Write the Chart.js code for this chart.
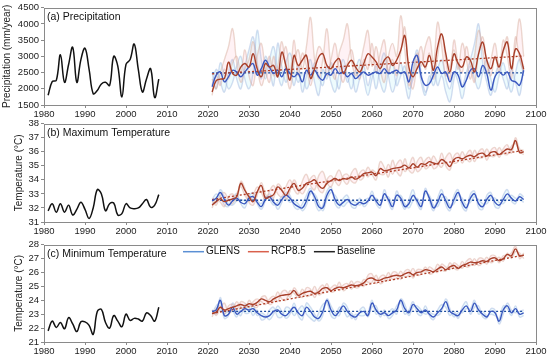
<!DOCTYPE html>
<html><head><meta charset="utf-8">
<script src="https://cdn.jsdelivr.net/npm/chart.js@4.4.1/dist/chart.umd.min.js"></script>
<style>
body{margin:0;background:#fff;width:550px;height:360px;position:relative;overflow:hidden}
.p{position:absolute;left:0;width:550px}
</style></head><body>
<div class="p" style="top:0;height:120px"><canvas id="ca"></canvas></div>
<div class="p" style="top:116px;height:122px"><canvas id="cb"></canvas></div>
<div class="p" style="top:237px;height:123px"><canvas id="cc"></canvas></div>
<script>
const baseYears = [1981,1982,1983,1984,1985,1986,1987,1988,1989,1990,1991,1992,1993,1994,1995,1996,1997,1998,1999,2000,2001,2002,2003,2004,2005,2006,2007,2008];
const futYears = [2021,2022,2023,2024,2025,2026,2027,2028,2029,2030,
  2031,2032,2033,2034,2035,2036,2037,2038,2039,2040,
  2041,2042,2043,2044,2045,2046,2047,2048,2049,2050,
  2051,2052,2053,2054,2055,2056,2057,2058,2059,2060,
  2061,2062,2063,2064,2065,2066,2067,2068,2069,2070,
  2071,2072,2073,2074,2075,2076,2077,2078,2079,2080,
  2081,2082,2083,2084,2085,2086,2087,2088,2089,2090,
  2091,2092,2093,2094,2095,2096,2097];
const trendYears = [2021, 2097];

// (a) precipitation, mm/year
const baseA = [1800,2220,2260,3050,2200,2750,3280,2200,2900,3250,
  2600,1850,1950,2150,2200,2100,3000,2700,1750,2750,
  2900,3380,2600,1900,2300,2620,1730,2300];
const glensA = [2060,2420,2520,2215,2370,2570,2520,2370,2520,2670,
  2775,2420,2620,2880,2670,2470,2570,2370,2620,2470,
  2370,2470,2215,2570,2420,2570,2370,2265,2470,2420,
  2620,2470,2520,2370,2470,2315,2420,2520,2420,2470,
  2520,2470,2620,2470,2520,2570,2470,2520,2215,2830,
  3030,2370,2110,2160,2420,2670,2470,2520,2215,2520,
  2420,2060,2265,2570,2620,2370,2720,2470,1960,2370,
  2520,2420,2520,2265,2215,2110,2570];
const rcpA = [1900,2250,2300,2320,2820,2470,2420,2670,2780,2670,
  3080,2620,2370,2780,2670,2720,2370,3130,2720,2270,
  3030,2720,2880,3030,2320,2620,2980,3080,2720,2620,
  2830,2930,2470,2720,2880,2670,2520,2780,3080,2980,
  2830,2620,2880,2980,2720,2880,3180,3640,2670,2370,
  2620,2830,2670,3030,2570,3290,3690,3080,2520,3080,
  2780,2670,2980,2880,2520,3080,3440,2880,2620,2980,
  2670,3180,3440,2620,3230,3080,2600];
const rcpA1 = [2300,2000,2500,2900,3300,3850,2800,2200,2600,2900,
  3450,2700,2100,2500,3000,2400,2700,3450,2600,2000,
  2800,3200,2600,3300,4200,2900,2300,2900,3850,2700,
  2300,3100,3500,4000,2900,2400,2700,3300,3800,2700,
  3300,2600,2200,3000,3400,3000,4250,3200,2100,2500,
  3100,2700,3300,3600,2800,4050,3300,2400,2700,3200,
  2600,3400,2900,2300,3000,3800,3200,2500,2900,3400,
  2700,3100,3600,2600,3300,4150,3000];
const rcpA2 = [1800,2400,2100,2600,2300,2800,3000,2500,3200,2400,
  2100,3000,3400,2600,2200,3000,2400,2800,3300,2500,
  3500,2400,3100,2700,2100,2700,3300,3100,2400,2900,
  3400,2600,2200,2800,3200,2600,2300,2900,2600,3400,
  2500,3100,3500,2500,2900,2400,3100,3900,2400,2000,
  2800,3300,2600,3100,2300,3000,3700,2900,2300,3500,
  2800,2500,3300,2700,2200,3100,3600,2800,2400,3000,
  2500,3500,3000,2300,3600,2900,2500];
const glensA1 = [2100,2600,2200,1900,2500,2900,2300,2000,2700,3200,
  3600,2800,2300,3000,2600,2100,3400,2700,2200,2500,
  2100,2700,1900,2400,2900,2200,1800,2600,2300,2800,
  2400,2000,2700,2200,2500,1900,2300,2700,2100,2500,
  2000,2700,3100,2400,1900,2300,2800,2200,1700,2600,
  3200,2500,1900,2200,2700,2100,2400,1900,1600,2300,
  2800,2100,2500,2900,3400,4000,2800,2200,1800,2400,
  2700,2300,2000,2600,2200,1800,2700];
const glensA2 = [2500,2000,2800,2400,2000,2200,2700,3000,2300,2000,
  2500,3800,2900,2300,2900,3300,2500,2100,2800,3100,
  2600,2200,2500,2000,2300,2800,2400,2100,2700,2200,
  1900,2500,2900,2400,2000,2600,2900,2300,1800,2300,
  2700,2200,1900,2500,2800,2100,2400,2700,2000,2300,
  2900,2200,1800,2400,2100,2600,2900,2300,2000,2500,
  2200,1700,2300,2700,2300,2000,2500,2900,2300,1900,
  2400,2800,2300,1900,2500,2900,2400];
const rcpTrendA = [2460, 3010];
const glensTrendA = [2490, 2490];

// (b) maximum temperature, °C
const baseB = [31.8,32.3,31.7,32.3,31.7,32.2,31.5,31.9,32.4,31.9,
  31.25,32.0,33.3,33.0,31.8,32.3,32.35,31.5,31.6,32.3,
  32.0,31.95,32.0,32.3,32.6,32.05,32.2,32.95];
const glensB = [32.5,32.7,33.1,32.6,32.2,32.5,32.7,32.4,32.3,32.7,
  32.8,32.4,32.1,32.6,32.8,32.4,32.2,32.6,32.9,32.7,
  32.3,32.1,32.0,32.5,33.2,32.8,32.1,32.0,32.9,33.3,
  32.6,32.2,32.4,32.6,32.3,32.2,32.4,32.3,32.5,32.9,
  32.5,32.2,33.0,32.6,32.1,32.9,32.7,32.1,32.3,32.9,
  32.5,32.1,33.2,32.7,32.0,32.4,33.0,32.5,32.0,32.6,
  33.1,32.4,32.0,32.7,33.0,32.3,32.1,32.6,32.9,32.4,
  32.2,32.6,33.0,32.7,32.5,32.8,32.6];
const rcpB = [32.2,32.45,32.65,32.45,32.55,32.65,32.8,33.75,33.25,32.8,
  32.45,33.15,33.6,32.7,32.8,32.95,33.5,33.25,32.9,33.4,
  33.75,33.25,33.4,33.75,33.85,34.0,33.6,33.4,33.75,33.95,
  34.1,33.95,34.1,34.05,34.2,34.05,34.2,34.45,34.5,34.55,
  34.3,34.8,34.65,34.7,34.8,34.85,34.9,35.05,34.85,35.15,
  34.9,35.15,35.1,35.3,35.2,35.15,35.45,35.25,34.95,35.45,
  35.6,35.5,35.65,35.75,35.65,35.85,35.9,35.7,35.95,36.0,
  35.8,36.0,36.2,36.15,36.8,35.95,36.0];
const rcpB1 = [32.5,32.2,32.9,33.1,32.6,32.3,33.0,33.5,32.9,32.5,
  32.9,33.5,33.1,32.6,33.2,33.6,33.0,32.8,33.5,34.0,
  33.3,33.0,33.9,34.4,33.6,33.3,34.3,34.6,33.8,33.5,
  34.2,34.7,34.0,33.7,34.5,34.8,34.0,34.2,34.9,34.4,
  34.0,35.3,34.9,34.2,35.4,34.6,34.3,35.5,34.7,34.5,
  35.3,35.6,34.8,35.0,35.7,35.2,34.9,35.6,35.9,35.2,
  35.3,36.0,35.5,35.3,36.1,35.6,35.6,36.2,35.7,35.7,
  36.3,35.9,35.8,36.4,36.6,36.0,35.8];
const rcpB2 = [32.0,32.7,32.4,32.1,32.8,33.0,32.5,33.9,33.4,32.4,
  32.2,32.9,33.8,33.0,32.6,32.7,33.7,33.4,32.6,33.2,
  34.0,33.4,33.0,33.5,34.1,34.3,33.3,33.1,34.0,34.3,
  33.9,33.6,34.3,34.4,33.9,33.8,34.5,34.7,34.2,34.7,
  34.5,34.4,34.4,35.1,34.4,35.1,35.4,34.6,35.0,35.6,
  34.6,34.8,35.4,35.6,34.8,35.0,35.9,35.0,34.7,35.7,
  35.9,35.2,35.8,36.1,35.3,36.0,36.2,35.4,36.1,36.3,
  35.6,36.2,36.5,35.9,37.0,36.2,36.1];
const glensB1 = [32.6,33.0,32.8,32.2,32.1,32.7,33.0,32.3,32.0,32.8,
  33.1,32.3,31.9,32.5,33.0,32.6,31.9,32.4,33.1,32.9,
  32.1,31.9,32.3,32.9,33.4,32.5,31.8,32.2,33.2,33.5,
  32.3,32.0,32.7,32.9,32.1,32.0,32.7,32.1,32.4,33.2,
  32.3,32.0,33.3,32.4,31.9,33.2,32.5,31.9,32.6,33.3,
  32.3,31.9,33.4,32.5,31.8,32.7,33.3,32.2,31.8,32.9,
  33.3,32.1,31.8,33.0,33.2,32.0,31.9,32.9,33.1,32.1,
  32.0,32.9,33.3,32.5,32.3,33.0,32.8];
const glensB2 = [32.3,32.4,33.3,32.8,32.3,32.2,32.5,32.6,32.5,32.5,
  32.6,32.5,32.3,32.8,32.6,32.2,32.4,32.8,32.7,32.4,
  32.5,32.3,31.8,32.2,33.0,33.0,32.4,31.8,32.6,33.1,
  32.9,32.4,32.1,32.4,32.5,32.4,32.2,32.5,32.7,32.6,
  32.7,32.4,32.7,32.8,32.3,32.6,32.9,32.3,32.0,32.5,
  32.7,32.3,33.0,32.9,32.2,32.1,32.7,32.8,32.2,32.3,
  32.9,32.7,32.2,32.4,32.8,32.6,32.3,32.3,32.7,32.7,
  32.4,32.3,32.7,32.9,32.7,32.6,32.4];
const rcpTrendB = [32.6, 36.1];
const glensTrendB = [32.55, 32.55];

// (c) minimum temperature, °C
const baseC = [21.8,22.5,22.05,22.4,21.95,22.75,22.3,21.75,22.45,22.45,
  22.2,21.55,23.2,23.35,22.4,22.0,22.9,22.5,22.1,23.0,
  22.55,22.7,22.65,22.5,23.1,22.9,22.5,23.5];
const glensC = [23.2,23.3,24.0,22.9,23.0,23.5,23.0,23.2,23.4,23.3,
  23.4,23.1,22.9,22.8,22.9,23.2,23.3,23.0,22.9,23.2,
  23.5,23.1,22.9,23.5,23.2,22.8,22.7,23.2,24.0,23.3,
  22.9,23.2,23.6,23.2,22.9,22.8,23.1,23.2,22.9,23.8,
  23.3,23.0,23.1,22.9,23.1,23.3,24.0,23.4,23.1,23.7,
  23.4,23.1,23.3,23.0,22.8,23.1,23.4,23.9,23.2,23.0,
  22.9,23.3,23.6,23.2,23.8,23.3,23.0,22.8,23.2,23.1,
  22.5,23.3,23.6,23.1,23.4,23.0,23.1];
const rcpC = [23.05,23.15,23.5,23.3,23.4,23.5,23.6,23.7,23.6,23.75,
  23.7,23.85,24.1,24.0,23.9,24.1,24.25,24.35,24.4,24.45,
  24.7,24.35,24.5,24.6,24.65,24.5,24.6,24.85,24.9,24.7,
  24.85,24.95,24.9,25.0,25.1,25.05,25.1,25.25,25.55,25.6,
  25.45,25.45,25.6,25.65,25.75,25.8,25.75,25.9,26.0,25.85,
  26.0,26.05,26.2,26.15,26.05,26.25,26.4,26.2,26.4,26.5,
  26.3,26.5,26.6,26.75,26.7,26.75,26.85,26.8,27.0,27.05,
  26.85,27.0,27.3,27.2,27.7,27.2,27.25];
const rcpC1 = [23.3,22.9,23.4,23.8,23.1,23.3,23.9,23.5,23.3,24.0,
  23.6,23.5,24.2,24.3,23.7,23.9,24.6,24.1,24.0,24.7,
  24.5,24.2,24.8,24.3,24.4,25.0,24.4,24.6,25.2,24.6,
  24.7,25.3,24.7,24.9,25.4,24.9,25.0,25.5,25.3,25.3,
  25.8,25.2,25.4,26.0,25.5,25.6,26.1,25.7,25.8,26.3,
  25.8,25.9,26.4,25.9,26.0,26.6,26.2,26.1,26.7,26.3,
  26.2,26.8,26.4,26.5,27.0,26.5,26.7,27.1,26.7,26.9,
  27.1,26.8,27.4,27.0,27.5,27.4,27.0];
const rcpC2 = [22.8,23.4,23.6,23.0,23.6,23.7,23.3,23.9,23.8,23.5,
  23.9,24.1,23.9,23.7,24.1,24.3,23.9,24.6,24.7,24.2,
  24.9,24.5,24.2,24.9,24.8,24.2,24.8,25.1,24.6,24.9,
  25.1,24.7,25.1,25.2,24.8,25.3,25.3,25.0,25.8,25.9,
  25.2,25.7,25.8,25.4,26.0,26.0,25.5,26.1,26.2,25.6,
  26.2,26.2,26.0,26.4,26.2,26.0,26.6,26.4,26.2,26.7,
  26.5,26.3,26.8,27.0,26.5,27.0,27.0,26.6,27.2,27.2,
  26.7,27.2,27.2,27.4,27.9,27.0,27.4];
const glensC1 = [23.0,23.6,23.8,22.7,22.9,23.8,23.3,22.9,23.7,23.5,
  22.9,23.3,22.6,22.7,23.3,23.5,22.8,22.8,23.5,23.4,
  22.9,23.3,23.6,23.0,22.7,22.5,23.1,23.7,23.8,22.9,
  22.7,23.5,23.3,22.8,23.1,22.6,23.3,23.5,22.8,23.5,
  23.6,22.8,23.3,22.7,22.9,23.6,23.8,23.0,23.3,23.9,
  23.1,22.9,23.6,22.9,22.6,23.3,23.7,23.5,22.9,23.2,
  22.7,23.5,23.9,23.0,23.5,23.6,22.8,22.7,23.4,23.3,
  22.3,23.0,23.8,23.3,23.1,23.2,23.3];
const glensC2 = [23.3,23.0,24.2,23.1,23.2,23.2,22.8,23.5,23.1,23.1,
  23.7,22.9,23.1,22.9,22.6,23.0,23.6,23.2,22.7,23.0,
  23.8,22.9,22.6,23.8,23.5,23.0,22.5,22.9,24.1,23.6,
  23.1,22.9,23.8,23.5,22.7,23.0,22.9,22.9,23.1,24.0,
  23.0,23.2,22.9,23.1,23.4,23.0,24.1,23.7,22.9,23.5,
  23.6,23.3,23.0,23.1,23.0,22.9,23.2,24.1,23.4,22.8,
  23.1,23.1,23.4,23.4,24.0,23.0,23.2,22.9,23.0,22.9,
  22.7,23.6,23.4,22.9,23.6,22.8,22.9];
const rcpTrendC = [23.05, 27.25];
const glensTrendC = [23.2, 23.2];

const FONT = '"Liberation Sans", Arial, sans-serif';
const pts = (xs, ys) => xs.map((x, i) => ({x: x, y: ys[i]}));

const framePlugin = {
  id: 'frame',
  afterDraw(chart, args, o) {
    const ctx = chart.ctx, a = chart.chartArea;
    ctx.save();
    ctx.strokeStyle = '#8a8a8a';
    ctx.lineWidth = 1;
    ctx.strokeRect(Math.round(a.left) + 0.5, Math.round(a.top) + 0.5, Math.round(a.right - a.left), Math.round(a.bottom - a.top));
    ctx.fillStyle = '#111';
    ctx.font = '10.5px ' + FONT;
    ctx.textBaseline = 'middle';
    ctx.fillText(o.label, a.left + 3, a.top + 9);
    if (o.legend) {
      ctx.font = '10px ' + FONT;
      let x = a.left + 139;
      const y = a.top + 7;
      o.legend.forEach(it => {
        ctx.strokeStyle = it.c;
        ctx.lineWidth = 1.5;
        ctx.beginPath(); ctx.moveTo(x, y); ctx.lineTo(x + 21, y); ctx.stroke();
        ctx.fillStyle = '#111';
        ctx.fillText(it.t, x + 23, y);
        x += 23 + ctx.measureText(it.t).width + 8;
      });
    }
    ctx.restore();
  }
};

function makePanel(id, cfg) {
  const line = (data, color, w, extra) => Object.assign({
    data: data, borderColor: color, borderWidth: w, pointRadius: 0,
    tension: 0.4, fill: false
  }, extra || {});
  const datasets = [
    line(pts(baseYears, cfg.base), '#111', 1.5),
    line(pts(futYears, cfg.rcp), '#a8402a', 1.4),
    line(pts(futYears, cfg.glens), '#3b58c0', 1.4),
    line(pts(trendYears, cfg.rcpTrend), '#b03a22', 1.3, {borderDash: [2, 2], tension: 0}),
    line(pts(trendYears, cfg.glensTrend), '#1f4ea0', 1.3, {borderDash: [2, 2], tension: 0}),
    line(pts(futYears, cfg.rcp1), 'rgba(210,165,145,0.42)', 1.4, {fill: '+1', backgroundColor: 'rgba(255,150,175,0.12)'}),
    line(pts(futYears, cfg.rcp2), 'rgba(210,165,145,0.42)', 1.4),
    line(pts(futYears, cfg.glens1), 'rgba(150,175,220,0.42)', 1.4, {fill: '+1', backgroundColor: 'rgba(150,230,245,0.16)'}),
    line(pts(futYears, cfg.glens2), 'rgba(150,175,220,0.42)', 1.4)
  ];
  const tickFont = {family: FONT, size: 9.5};
  return new Chart(document.getElementById(id), {
    type: 'line',
    data: {datasets: datasets},
    plugins: [framePlugin],
    options: {
      responsive: true, maintainAspectRatio: false, animation: false,
      layout: {padding: {top: 7, right: 14, left: 0, bottom: 0}},
      plugins: {legend: {display: false}, tooltip: {enabled: false},
        frame: {label: cfg.label, legend: cfg.legend}},
      scales: {
        x: {
          type: 'linear', min: 1980, max: 2100,
          afterFit: s => { s.height = cfg.xh; },
          ticks: {stepSize: 10, autoSkip: false, callback: v => String(v), font: tickFont, color: '#222', padding: 1, maxRotation: 0},
          grid: {drawOnChartArea: false, tickLength: 3, color: '#8a8a8a'},
          border: {display: false}
        },
        y: {
          min: cfg.ymin, max: cfg.ymax,
          afterFit: s => { s.width = 44; },
          ticks: {stepSize: cfg.step, autoSkip: false, callback: v => String(v), font: tickFont, color: '#222', padding: 2},
          grid: {drawOnChartArea: false, tickLength: 3, color: '#8a8a8a'},
          border: {display: false},
          title: {display: true, text: cfg.ytitle, font: {family: FONT, size: 10}, color: '#222', padding: {top: cfg.tpad, bottom: 0}}
        }
      }
    }
  });
}

makePanel('ca', {label: '(a) Precipitation', ytitle: 'Precipitation (mm/year)', tpad: 1,
  ymin: 1500, ymax: 4500, step: 500, xh: 15,
  base: baseA, glens: glensA, rcp: rcpA, rcp1: rcpA1, rcp2: rcpA2, glens1: glensA1, glens2: glensA2,
  rcpTrend: rcpTrendA, glensTrend: glensTrendA});
makePanel('cb', {label: '(b) Maximum Temperature', ytitle: 'Temperature (°C)', tpad: 13,
  ymin: 31, ymax: 38, step: 1, xh: 16,
  base: baseB, glens: glensB, rcp: rcpB, rcp1: rcpB1, rcp2: rcpB2, glens1: glensB1, glens2: glensB2,
  rcpTrend: rcpTrendB, glensTrend: glensTrendB});
makePanel('cc', {label: '(c) Minimum Temperature', ytitle: 'Temperature (°C)', tpad: 13,
  ymin: 21, ymax: 28, step: 1, xh: 18,
  base: baseC, glens: glensC, rcp: rcpC, rcp1: rcpC1, rcp2: rcpC2, glens1: glensC1, glens2: glensC2,
  rcpTrend: rcpTrendC, glensTrend: glensTrendC,
  legend: [{t: 'GLENS', c: '#5b8fd4'}, {t: 'RCP8.5', c: '#d9604c'}, {t: 'Baseline', c: '#222'}]});
</script>
</body></html>
